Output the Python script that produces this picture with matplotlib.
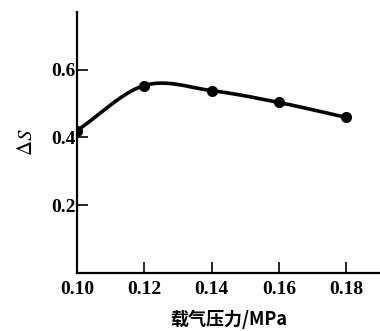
import numpy as np
import matplotlib.pyplot as plt

# carrier gas pressure (MPa) vs delta S
pressure = [0.10, 0.12, 0.14, 0.16, 0.18]
delta_s = [0.42, 0.553, 0.538, 0.503, 0.459]
xticks = [0.10, 0.12, 0.14, 0.16, 0.18]
yticks = [0.2, 0.4, 0.6]

plt.rcParams['font.family'] = ['Liberation Serif', 'Noto Sans CJK SC']
plt.rcParams['mathtext.fontset'] = 'stix'


def catmull_rom(x, y, n=40):
    # smooth curve that passes through every point
    px = np.r_[2 * x[0] - x[1], x, 2 * x[-1] - x[-2]]
    py = np.r_[2 * y[0] - y[1], y, 2 * y[-1] - y[-2]]
    t = np.linspace(0, 1, n)[:, None]
    outx, outy = [], []
    for i in range(1, len(px) - 2):
        for p, out in ((px, outx), (py, outy)):
            p0, p1, p2, p3 = p[i - 1], p[i], p[i + 1], p[i + 2]
            out.append(0.5 * (2 * p1 + (-p0 + p2) * t
                              + (2 * p0 - 5 * p1 + 4 * p2 - p3) * t ** 2
                              + (-p0 + 3 * p1 - 3 * p2 + p3) * t ** 3).ravel())
    return np.concatenate(outx), np.concatenate(outy)


fig = plt.figure(figsize=(3.8, 3.31), dpi=100)
ax = fig.add_axes([0.2026, 0.175, 0.797, 0.789])

xs, ys = catmull_rom(np.array(pressure), np.array(delta_s))
ax.plot(xs, ys, color='black', lw=2.6)
ax.plot(pressure, delta_s, 'o', color='black', ms=7)

ax.set_xlim(0.10, 0.19)
ax.set_ylim(0, 0.77)
ax.set_xticks(xticks)
ax.set_xticklabels([f'{v:.2f}' for v in xticks], fontweight='bold', fontsize=14)
ax.set_yticks(yticks)
ax.set_yticklabels([f'{v:.1f}' for v in yticks], fontweight='bold', fontsize=14)
ax.tick_params(direction='in', length=8, width=1.2)
ax.tick_params(axis='x', pad=6)
ax.tick_params(axis='y', pad=1)

for s in ['top', 'right']:
    ax.spines[s].set_visible(False)
for s in ['left', 'bottom']:
    ax.spines[s].set_linewidth(1.6)

ax.set_ylabel(r'$\Delta S$', fontsize=15, labelpad=10)
ax.set_xlabel('载气压力/MPa', fontsize=13, fontweight='bold',
              family=['Noto Sans CJK SC', 'Liberation Serif'], labelpad=8)

fig.savefig('out.png', dpi=100)
